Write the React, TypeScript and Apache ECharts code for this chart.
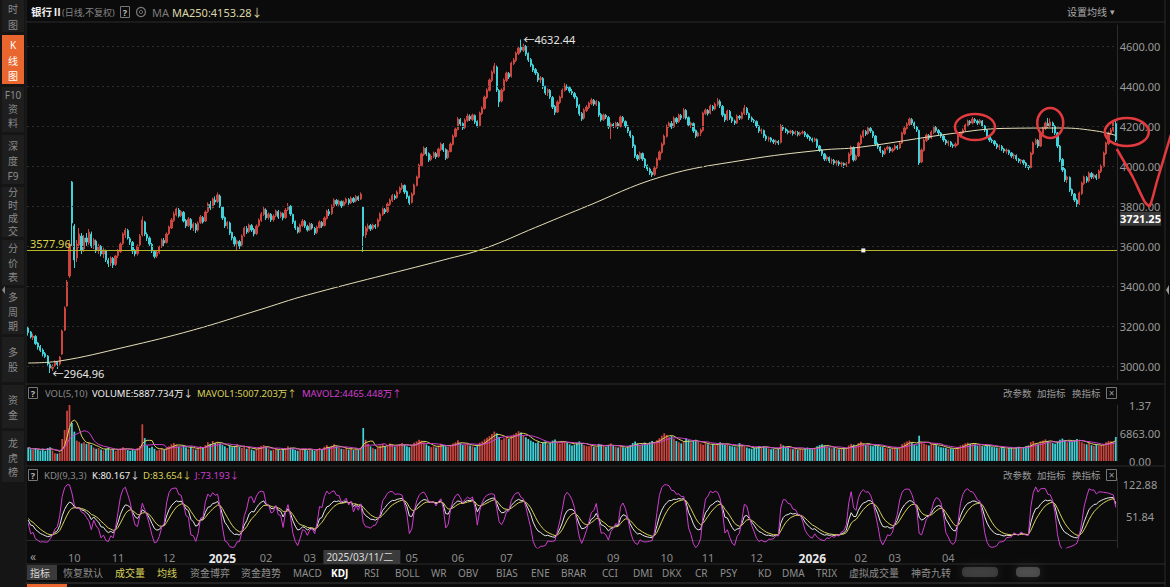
import { useEffect, useRef } from "react";
import * as echarts from "echarts";

// Daily candles of 银行Ⅱ: [open, close, low, high]
const candles: number[][] = [
  [3190,3168,3152,3198],[3170,3145,3138,3175],[3142,3150,3130,3162],[3148,3112,3105,3155],[3115,3095,3082,3120],
  [3098,3078,3070,3105],[3080,3060,3048,3088],[3062,3048,3040,3070],[3050,3010,3002,3055],[3008,2990,2964.96,3015],
  [2988,3000,2975,3008],[3002,3020,2995,3028],[3018,3008,2985,3025],[3010,3045,3002,3050],[3060,3175,3055,3182],
  [3180,3290,3175,3298],[3300,3420,3295,3430],[3450,3610,3440,3625],[3920,3715,3600,3925],[3700,3530,3490,3710],
  [3540,3610,3520,3630],[3605,3660,3590,3690],[3650,3580,3560,3665],[3585,3640,3570,3655],[3640,3620,3600,3665],
  [3615,3670,3605,3685],[3660,3600,3590,3672],[3605,3630,3585,3640],[3625,3575,3565,3632],[3580,3600,3560,3612],
  [3598,3560,3548,3605],[3560,3580,3540,3592],[3575,3530,3520,3582],[3528,3512,3495,3540],[3515,3540,3500,3548],
  [3538,3505,3490,3545],[3508,3550,3500,3556],[3552,3575,3540,3585],[3572,3610,3565,3618],[3612,3660,3605,3668],
  [3655,3680,3640,3690],[3678,3640,3632,3686],[3636,3620,3605,3645],[3618,3575,3560,3625],[3578,3560,3548,3585],
  [3562,3600,3552,3608],[3605,3650,3598,3660],[3655,3730,3648,3748],[3720,3660,3650,3726],[3658,3640,3625,3668],
  [3640,3610,3600,3648],[3608,3575,3565,3615],[3572,3548,3538,3580],[3550,3570,3540,3578],[3568,3595,3560,3602],
  [3598,3630,3590,3638],[3628,3615,3600,3640],[3618,3660,3612,3668],[3662,3695,3655,3702],[3690,3730,3685,3740],
  [3728,3760,3720,3772],[3755,3785,3748,3792],[3780,3750,3742,3790],[3752,3772,3745,3780],[3768,3725,3718,3775],
  [3728,3700,3690,3735],[3702,3735,3695,3745],[3732,3690,3680,3740],[3692,3710,3675,3718],[3708,3680,3665,3715],
  [3680,3715,3672,3722],[3718,3745,3710,3755],[3742,3720,3712,3750],[3725,3770,3720,3778],[3772,3810,3765,3818],
  [3808,3790,3780,3825],[3792,3835,3788,3842],[3830,3820,3805,3848],[3822,3855,3815,3868],[3850,3800,3790,3858],
  [3795,3740,3730,3800],[3742,3700,3690,3748],[3702,3718,3685,3725],[3715,3665,3655,3722],[3668,3640,3628,3672],
  [3642,3610,3598,3650],[3612,3625,3580,3632],[3622,3600,3585,3630],[3605,3650,3598,3658],[3652,3690,3645,3698],
  [3688,3670,3660,3700],[3672,3705,3665,3712],[3702,3680,3670,3710],[3682,3660,3648,3690],[3662,3700,3655,3708],
  [3702,3730,3695,3738],[3728,3760,3720,3770],[3758,3785,3750,3795],[3780,3740,3730,3788],[3742,3760,3732,3768],
  [3758,3730,3720,3765],[3732,3750,3722,3758],[3752,3775,3745,3782],[3772,3745,3735,3780],[3748,3765,3740,3772],
  [3762,3740,3728,3768],[3742,3780,3735,3790],[3782,3800,3775,3815],[3798,3760,3750,3805],[3758,3720,3710,3762],
  [3722,3690,3680,3728],[3692,3670,3662,3698],[3672,3705,3665,3712],[3702,3725,3695,3735],[3722,3700,3690,3730],
  [3698,3680,3672,3706],[3682,3710,3675,3718],[3708,3690,3682,3715],[3688,3665,3655,3695],[3668,3695,3660,3702],
  [3692,3720,3688,3728],[3718,3700,3690,3725],[3702,3740,3698,3748],[3738,3775,3732,3782],[3772,3760,3750,3785],
  [3762,3800,3755,3808],[3798,3830,3790,3838],[3828,3810,3800,3835],[3808,3825,3800,3832],[3822,3800,3790,3828],
  [3802,3820,3795,3828],[3818,3835,3810,3842],[3832,3815,3805,3840],[3815,3840,3810,3848],[3838,3822,3815,3845],
  [3825,3848,3818,3855],[3846,3832,3825,3852],[3835,3860,3830,3868],[3795,3650,3570,3800],[3655,3690,3640,3700],
  [3688,3700,3672,3712],[3702,3685,3675,3710],[3688,3705,3680,3712],[3702,3695,3685,3710],[3698,3730,3692,3738],
  [3728,3760,3722,3768],[3758,3785,3750,3792],[3782,3770,3760,3790],[3772,3810,3765,3818],[3808,3830,3800,3838],
  [3828,3852,3820,3860],[3850,3840,3830,3858],[3842,3870,3835,3878],[3868,3890,3860,3898],[3888,3905,3880,3915],
  [3902,3870,3860,3908],[3872,3845,3835,3878],[3848,3815,3805,3852],[3818,3860,3812,3868],[3858,3905,3852,3912],
  [3902,3945,3898,3952],[3942,4005,3938,4012],[4002,4060,3998,4068],[4058,4090,4050,4098],[4088,4060,4050,4095],
  [4062,4030,4020,4068],[4032,4050,4025,4058],[4048,4065,4040,4072],[4062,4045,4035,4070],[4048,4085,4042,4092],
  [4082,4110,4075,4118],[4108,4080,4070,4115],[4082,4040,4030,4088],[4042,4075,4035,4082],[4072,4110,4068,4118],
  [4108,4150,4102,4158],[4148,4185,4142,4192],[4182,4235,4178,4245],[4232,4210,4200,4240],[4212,4190,4180,4218],
  [4192,4230,4185,4238],[4228,4250,4220,4262],[4248,4235,4225,4258],[4232,4255,4225,4262],[4252,4220,4210,4258],
  [4222,4200,4192,4228],[4202,4265,4198,4272],[4262,4290,4255,4298],[4288,4345,4282,4352],[4342,4380,4335,4388],
  [4378,4430,4372,4438],[4428,4470,4420,4478],[4468,4500,4460,4515],[4495,4380,4370,4502],[4378,4320,4295,4385],
  [4325,4380,4318,4388],[4378,4430,4372,4438],[4428,4465,4420,4472],[4462,4445,4435,4470],[4448,4515,4442,4522],
  [4512,4530,4505,4540],[4528,4565,4520,4572],[4562,4590,4555,4600],[4595,4580,4568,4632.44],[4578,4600,4570,4612],
  [4598,4560,4550,4605],[4562,4530,4520,4568],[4532,4505,4495,4540],[4505,4480,4470,4512],[4482,4465,4455,4490],
  [4462,4430,4420,4470],[4432,4440,4415,4450],[4438,4395,4385,4445],[4398,4365,4355,4402],[4368,4380,4350,4388],
  [4378,4345,4335,4385],[4342,4295,4285,4350],[4298,4268,4255,4305],[4270,4320,4265,4328],[4318,4345,4310,4352],
  [4342,4380,4338,4388],[4378,4400,4372,4415],[4398,4390,4380,4408],[4392,4375,4365,4398],[4372,4365,4355,4385],
  [4362,4345,4335,4370],[4342,4300,4290,4350],[4302,4260,4250,4310],[4262,4235,4225,4270],[4240,4280,4232,4288],
  [4278,4295,4270,4305],[4292,4315,4285,4322],[4312,4330,4305,4340],[4328,4310,4300,4335],[4308,4322,4300,4330],
  [4318,4255,4245,4325],[4258,4230,4222,4265],[4232,4255,4225,4262],[4252,4245,4235,4260],[4242,4195,4185,4250],
  [4198,4210,4135,4218],[4208,4200,4190,4215],[4198,4215,4192,4222],[4212,4195,4185,4220],[4198,4245,4192,4252],
  [4242,4225,4215,4250],[4222,4200,4190,4228],[4200,4175,4165,4205],[4172,4150,4140,4178],[4148,4100,4090,4155],
  [4102,4050,4040,4108],[4052,4035,4025,4060],[4038,4065,4030,4072],[4062,4035,4025,4068],[4035,4000,3990,4040],
  [4002,3985,3975,4008],[3985,3965,3955,3992],[3968,3955,3945,3975],[3958,3990,3950,3998],[3992,4035,3985,4042],
  [4032,4070,4028,4078],[4068,4110,4062,4118],[4108,4150,4102,4158],[4148,4200,4142,4208],[4198,4215,4190,4222],
  [4212,4195,4185,4225],[4195,4240,4190,4248],[4238,4220,4210,4245],[4222,4255,4215,4262],[4252,4240,4230,4260],
  [4242,4280,4235,4290],[4278,4240,4232,4285],[4242,4205,4195,4248],[4205,4215,4190,4222],[4212,4175,4165,4218],
  [4178,4150,4140,4182],[4150,4165,4145,4172],[4165,4180,4150,4188],[4178,4265,4172,4272],[4262,4280,4255,4288],
  [4278,4262,4252,4285],[4265,4300,4258,4308],[4298,4285,4275,4305],[4285,4310,4278,4318],[4308,4325,4298,4340],
  [4322,4300,4290,4332],[4298,4255,4245,4305],[4258,4230,4220,4262],[4232,4275,4225,4282],[4272,4240,4230,4280],
  [4242,4225,4215,4248],[4225,4215,4205,4232],[4215,4250,4210,4258],[4248,4240,4230,4255],[4238,4265,4232,4272],
  [4262,4290,4255,4305],[4288,4265,4255,4295],[4262,4240,4230,4268],[4240,4230,4220,4248],[4228,4225,4215,4235],
  [4222,4200,4190,4228],[4200,4175,4165,4205],[4175,4180,4160,4188],[4178,4150,4140,4182],[4150,4135,4125,4158],
  [4135,4140,4122,4148],[4140,4128,4118,4145],[4128,4120,4110,4135],[4118,4125,4105,4132],[4122,4115,4105,4130],
  [4118,4200,4112,4210],[4198,4185,4175,4205],[4185,4175,4165,4192],[4175,4168,4158,4182],[4168,4175,4160,4182],
  [4172,4162,4152,4180],[4162,4170,4155,4178],[4168,4158,4148,4175],[4158,4165,4150,4172],[4165,4170,4158,4178],
  [4168,4155,4145,4175],[4155,4145,4135,4162],[4145,4135,4125,4150],[4135,4128,4118,4142],[4128,4135,4120,4142],
  [4132,4100,4090,4138],[4100,4080,4070,4105],[4080,4060,4050,4085],[4060,4035,4025,4065],[4035,4045,4025,4052],
  [4042,4025,4015,4048],[4025,4030,4010,4038],[4028,4015,4005,4035],[4015,4022,4002,4030],[4020,4010,4000,4028],
  [4010,4015,3995,4022],[4012,4005,3990,4018],[4005,4012,3995,4020],[4015,4060,4010,4068],[4058,4095,4050,4102],
  [4092,4030,4022,4098],[4032,4050,4025,4058],[4050,4115,4045,4122],[4112,4150,4105,4158],[4148,4175,4140,4182],
  [4172,4160,4150,4180],[4162,4190,4155,4198],[4188,4175,4165,4195],[4172,4150,4140,4178],[4150,4110,4100,4155],
  [4110,4095,4085,4118],[4095,4075,4065,4100],[4075,4060,4045,4080],[4062,4085,4055,4092],[4085,4095,4078,4102],
  [4092,4075,4065,4098],[4075,4085,4068,4092],[4085,4100,4078,4108],[4098,4090,4080,4105],[4090,4115,4085,4122],
  [4115,4165,4110,4172],[4162,4190,4155,4198],[4188,4210,4182,4218],[4208,4235,4200,4242],[4232,4215,4205,4240],
  [4215,4195,4185,4222],[4195,4180,4170,4200],[4178,4015,4005,4182],[4020,4080,4015,4088],[4078,4130,4072,4138],
  [4128,4155,4120,4162],[4152,4140,4130,4160],[4140,4170,4135,4178],[4168,4195,4160,4202],[4192,4178,4168,4200],
  [4178,4165,4155,4185],[4165,4150,4140,4170],[4150,4130,4120,4155],[4130,4115,4105,4135],[4115,4122,4100,4128],
  [4120,4105,4095,4125],[4105,4100,4090,4112],[4100,4110,4092,4118],[4108,4150,4102,4158],[4150,4165,4142,4172],
  [4165,4180,4158,4188],[4180,4205,4172,4212],[4202,4225,4195,4232],[4222,4215,4205,4230],[4215,4235,4208,4245],
  [4232,4225,4215,4240],[4225,4215,4205,4232],[4215,4228,4208,4235],[4225,4200,4192,4230],[4200,4180,4170,4205],
  [4180,4150,4140,4185],[4150,4130,4120,4155],[4130,4125,4115,4138],[4125,4110,4100,4130],[4110,4095,4085,4115],
  [4095,4100,4080,4108],[4098,4085,4075,4105],[4085,4075,4065,4090],[4075,4080,4062,4088],[4078,4065,4055,4082],
  [4065,4050,4040,4070],[4050,4055,4035,4062],[4052,4035,4025,4058],[4035,4025,4015,4040],[4025,4030,4010,4035],
  [4028,4015,4005,4032],[4015,4000,3990,4020],[4000,3992,3980,4005],[3992,4065,3988,4072],[4062,4115,4055,4122],
  [4112,4130,4105,4138],[4128,4100,4090,4135],[4100,4165,4095,4172],[4162,4190,4155,4198],[4188,4215,4180,4222],
  [4212,4200,4190,4240],[4200,4220,4195,4238],[4215,4200,4165,4222],[4198,4165,4155,4205],[4165,4100,4090,4170],
  [4100,4030,4020,4105],[4032,3980,3970,4040],[3982,3930,3920,3990],[3932,3945,3915,3952],[3942,3880,3870,3948],
  [3882,3860,3850,3888],[3860,3830,3820,3865],[3830,3810,3795,3838],[3812,3865,3805,3872],[3862,3915,3855,3922],
  [3912,3945,3905,3952],[3942,3925,3915,3950],[3925,3965,3918,3972],[3962,3945,3935,3970],[3945,3955,3935,3962],
  [3952,3940,3930,3960],[3940,3975,3935,3982],[3972,4000,3965,4008],[3998,4065,3992,4072],[4062,4115,4055,4122],
  [4112,4165,4105,4172],[4162,4180,4155,4190],[4178,4215,4170,4228],[4212,4130,4120,4225],
];

// Daily volume, 万股
const volumes: number[] = [
  3300,2900,2700,3100,2800,2600,3000,2500,3200,3400,
  2600,1900,1800,2000,5400,7600,12300,13726,9300,7200,
  5000,4700,4300,4600,4200,4500,3900,3300,3000,3200,
  2800,2600,3000,3300,2700,2900,2500,2800,3100,3400,
  3000,2700,2500,2900,2600,3200,3700,9000,5600,3800,
  3200,3500,3000,2600,2800,3100,2700,3300,3600,4100,
  4400,4000,3600,3300,3800,3400,3000,3500,3100,2800,
  3200,3600,3300,3900,4600,4200,4900,4400,4700,4300,
  3900,3600,3200,3800,3400,3700,4100,3500,3200,3600,
  3000,3300,2800,2600,3000,3400,3700,3900,3500,2900,
  2600,2800,3100,2700,2500,2900,3200,3600,3300,3000,
  2700,2500,2800,3100,2900,2600,3000,2700,2500,2900,
  3200,2800,3500,3900,3400,3700,4100,3600,3300,3000,
  2900,3200,2800,3100,2700,3000,2800,3300,8100,5200,
  4200,3600,3100,2900,3400,3800,4200,3600,3900,4300,
  4000,3500,3800,4100,4400,4000,3600,3400,3900,4500,
  4800,5200,5000,4600,4100,3700,3400,3600,3300,3800,
  4200,3900,3600,3500,3900,4300,4600,5100,4400,3900,
  4000,4300,3800,3600,3400,3900,4500,4800,5300,5700,
  6100,6600,7200,6800,5900,5200,5600,6000,5400,6200,
  6500,6900,7300,7000,6200,5800,5400,5000,4700,4400,
  4600,4200,4500,4800,4100,4400,5000,5300,4600,4300,
  4700,4900,4400,4100,3800,4000,4500,4800,4300,3900,
  3700,3600,3900,3500,3400,4200,4000,3700,3500,3900,
  4300,3800,3500,3300,3700,3400,3200,3600,3900,4400,
  4800,4300,3900,4100,4500,4200,4600,4900,4500,5100,
  5600,6200,6800,6400,5800,6100,5400,4900,4600,4300,
  4700,5500,5100,4600,4900,5200,4700,4300,4000,4400,
  4100,3800,4200,3900,4300,4600,4200,3900,4100,3800,
  3600,3500,3400,4400,3900,3600,3300,3100,3000,3200,
  3400,3700,3300,3600,3400,3100,2900,3000,2800,3100,
  4200,3800,3400,3200,3000,2900,3100,2800,3000,2900,
  3100,3300,3000,2900,3200,3600,3900,4100,3800,3500,
  3300,3100,3200,3000,2900,3100,3000,3200,3800,4200,
  4000,3600,4400,4700,4300,3900,4100,3800,3600,3900,
  3700,3500,3400,3200,3100,3000,3200,3300,3100,3500,
  4100,4500,4800,5000,4400,4000,3800,6200,4700,4300,
  4000,3800,4100,4300,3900,3600,3400,3300,3200,3000,
  3100,2900,3000,3500,3800,4000,4300,4500,4200,4400,
  4100,3800,3900,3700,3600,3800,3900,3500,3400,3300,
  3200,3400,3100,3000,3200,3300,3100,3400,3500,3200,
  3300,3600,3800,4600,4900,4400,4100,4800,5000,5300,
  4900,4600,4400,4200,4800,5200,5500,5100,4600,5000,
  4800,5100,5400,5000,4600,4300,4100,4400,3900,
  3700,4100,3800,3918,4100.47,4600,4900,4848,4800.28,5887.734,
];

// 250-day moving average read at sparse days: [dayIndex, value]
const ma250Knots: number[][] = [
  [0,3015],[13,3025],[40,3095],[68,3180],[95,3280],[115,3355],[171,3530],[188,3588],
  [209,3693],[228,3788],[261,3947],[295,4030],[327,4080],[342,4093],
  [381,4163],[402,4188],[426,4190],[440,4175],[448,4153.28],
];

const priceTicks = [3000, 3200, 3400, 3600, 3800, 4000, 4200, 4400, 4600];
const volTicks = [0, 6863, 13726];
const kdjTicks = [51.84, 122.88];
const drawnLevel = 3577.96;
const crossPrice = 3721.25;
const crossDay = 122;
const peakDay = 203;
const troughDay = 9;
const lastK = 80.167;
const lastD = 83.654;
const lastJ = 73.193;

const firstDay = "2024-09-02";
const closedDays = [
  "2024-09-16","2024-09-17","2024-10-01","2024-10-02","2024-10-03","2024-10-04","2024-10-07",
  "2025-01-01","2025-01-28","2025-01-29","2025-01-30","2025-01-31","2025-02-03","2025-02-04",
  "2025-04-04","2025-05-01","2025-05-02","2025-05-05","2025-06-02",
  "2025-10-01","2025-10-02","2025-10-03","2025-10-06","2025-10-07","2025-10-08",
  "2026-01-01","2026-01-02","2026-02-16","2026-02-17","2026-02-18","2026-02-19","2026-02-20","2026-02-23",
  "2026-04-06","2026-05-01","2026-05-04","2026-05-05","2026-06-19",
];
const lastLabelledDay = 390;

const UP = "#cc453f";
const DOWN = "#40d2d8";
const YELLOW = "#d9d25c";
const MAGENTA = "#cf3fcf";
const FONT = '"Noto Sans", "Noto Sans CJK SC", sans-serif';

function tradingDays(start: string, count: number, closed: Set<string>) {
  const out: string[] = [];
  const d = new Date(start + "T00:00:00Z");
  while (out.length < count) {
    const wd = d.getUTCDay();
    const s = d.toISOString().slice(0, 10);
    if (wd !== 0 && wd !== 6 && !closed.has(s)) out.push(s);
    d.setUTCDate(d.getUTCDate() + 1);
  }
  return out;
}

function movingAverage(values: number[], n: number) {
  return values.map((_, i) => {
    const s = Math.max(0, i - n + 1);
    let sum = 0;
    for (let j = s; j <= i; j++) sum += values[j];
    return sum / (i - s + 1);
  });
}

// KDJ(9,3,3) from the candles
function kdj(rows: number[][], n: number) {
  let k = 50, d = 50;
  const K: number[] = [], D: number[] = [], J: number[] = [];
  rows.forEach((r, i) => {
    let lo = Infinity, hi = -Infinity;
    for (let j = Math.max(0, i - n + 1); j <= i; j++) {
      lo = Math.min(lo, rows[j][2]);
      hi = Math.max(hi, rows[j][3]);
    }
    const rsv = hi === lo ? 50 : ((r[1] - lo) / (hi - lo)) * 100;
    k = (2 * k + rsv) / 3;
    d = (2 * d + k) / 3;
    K.push(k); D.push(d); J.push(3 * k - 2 * d);
  });
  return { K, D, J };
}

const txt = (x: number, y: number, text: string, fill: string, size = 10, weight = "normal", align = "left") => ({
  type: "text", x, y, silent: true, z: 20,
  style: { text, fill, font: `${weight} ${size}px ${FONT}`, textAlign: align, textVerticalAlign: "middle" },
});
const rect = (x: number, y: number, w: number, h: number, fill: string, stroke?: string) => ({
  type: "rect", silent: true, z: 10,
  shape: { x, y, width: w, height: h },
  style: { fill, stroke: stroke || null, lineWidth: 1 },
});
const hline = (x1: number, x2: number, y: number, stroke = "#2c2c2c") => ({
  type: "line", silent: true, z: 5, shape: { x1, y1: y, x2, y2: y }, style: { stroke, lineWidth: 1 },
});
const vline = (x: number, y1: number, y2: number, stroke = "#2c2c2c") => ({
  type: "line", silent: true, z: 5, shape: { x1: x, y1, x2: x, y2 }, style: { stroke, lineWidth: 1 },
});

const sideButtons = [
  { top: -4, bottom: 32, labels: ["时", "图"], ys: [9, 25] },
  { top: 35, bottom: 84, labels: ["K", "线", "图"], ys: [45, 61, 76], active: true },
  { top: 87, bottom: 132, labels: ["F10", "资", "料"], ys: [95, 109, 123] },
  { top: 135, bottom: 184, labels: ["深", "度", "F9"], ys: [146, 161, 176] },
  { top: 187, bottom: 237, labels: ["分", "时", "成", "交"], ys: [192, 205, 218, 231] },
  { top: 240, bottom: 285, labels: ["分", "价", "表"], ys: [248, 263, 277] },
  { top: 288, bottom: 334, labels: ["多", "周", "期"], ys: [297, 312, 326] },
  { top: 337, bottom: 382, labels: ["多", "股"], ys: [352, 367] },
  { top: 385, bottom: 428, labels: ["资", "金"], ys: [400, 415] },
  { top: 431, bottom: 482, labels: ["龙", "虎", "榜"], ys: [443, 458, 472] },
];

const toolbar: [string, number, string?][] = [
  ["恢复默认", 63], ["成交量", 115, YELLOW], ["均线", 157, YELLOW], ["资金博弈", 190], ["资金趋势", 241],
  ["MACD", 293], ["KDJ", 331, "#ffffff"], ["RSI", 364], ["BOLL", 395], ["WR", 431], ["OBV", 458],
  ["BIAS", 496], ["ENE", 531], ["BRAR", 561], ["CCI", 602], ["DMI", 633], ["DKX", 662], ["CR", 695],
  ["PSY", 720], ["KD", 758], ["DMA", 782], ["TRIX", 816], ["虚拟成交量", 849], ["神奇九转", 911],
];

function panelButtons(y: number) {
  return [
    txt(1003, y, "改参数", "#9a9a9a", 9.5),
    txt(1037, y, "加指标", "#9a9a9a", 9.5),
    txt(1072, y, "换指标", "#9a9a9a", 9.5),
    rect(1106.5, y - 5.5, 10, 11, "transparent", "#777"),
    txt(1111.5, y, "×", "#9a9a9a", 10, "normal", "center"),
  ];
}

function helpBox(x: number, y: number) {
  return [rect(x + 0.5, y - 5.5, 9, 11, "transparent", "#777"), txt(x + 5, y, "?", "#bbb", 9, "bold", "center")];
}

export default function App() {
  const ref = useRef<HTMLDivElement>(null);

  useEffect(() => {
    document.body.style.margin = "0";
    document.body.style.background = "#0b0b0b";
    const chart = echarts.init(ref.current!, undefined, { renderer: "svg" });
    const N = candles.length;
    const dates = tradingDays(firstDay, N, new Set(closedDays));
    const ma250: (number | null)[] = new Array(N).fill(null);
    ma250Knots.forEach(([i, v]) => { ma250[i] = v; });
    const mavol1 = movingAverage(volumes, 5);
    const mavol2 = movingAverage(volumes, 10);
    const { K, D, J } = kdj(candles, 9);
    K[N - 1] = lastK; D[N - 1] = lastD; J[N - 1] = lastJ;

    // month labels; the crosshair date box covers the ones just after it
    const isMonthStart = dates.map((d, i) => i > 0 && d.slice(0, 7) !== dates[i - 1].slice(0, 7));
    const labelDay = (i: number) =>
      isMonthStart[i] && i <= lastLabelledDay && !(i >= crossDay && i <= crossDay + 30);
    const gridBase = { left: 27, right: 53 };
    const hiddenX = (gridIndex: number) => ({
      type: "category", gridIndex, data: dates, boundaryGap: true,
      axisLine: { show: false }, axisTick: { show: false }, axisLabel: { show: false }, splitLine: { show: false },
    });
    const yBase = {
      type: "value", position: "right", scale: false,
      axisLine: { show: true, lineStyle: { color: "#2c2c2c" } },
      axisTick: { show: false }, splitLine: { show: false },
    };
    const axisText = { color: "#9a9a9a", fontSize: 11, align: "center", margin: 23, fontFamily: FONT };
    const lineSeries = (name: string, data: any[], color: string, xi: number, extra: any = {}) => ({
      name, type: "line", data, xAxisIndex: xi, yAxisIndex: xi, showSymbol: false, silent: true,
      lineStyle: { color, width: 1 }, ...extra,
    });

    chart.setOption({
      animation: false,
      backgroundColor: "#0b0b0b",
      textStyle: { fontFamily: FONT },
      grid: [
        { ...gridBase, top: 25, height: 355 },
        { ...gridBase, top: 405, height: 56 },
        { ...gridBase, top: 478, height: 70 },
      ],
      xAxis: [
        hiddenX(0),
        hiddenX(1),
        {
          ...hiddenX(2),
          axisLine: { show: true, lineStyle: { color: "#2c2c2c" } },
          axisLabel: {
            show: true, margin: 4,
            interval: (i: number) => labelDay(i),
            formatter: (v: string) => (v.slice(5, 7) === "01" ? `{y|${v.slice(0, 4)}}` : `{m|${v.slice(5, 7)}}`),
            rich: {
              y: { color: "#e8e8e8", fontSize: 12, fontWeight: "bold", fontFamily: FONT },
              m: { color: "#8a8a8a", fontSize: 11, fontFamily: FONT },
            },
          },
        },
      ],
      yAxis: [
        {
          ...yBase, gridIndex: 0, min: 2930, max: 4705,
          axisLabel: { ...axisText, customValues: priceTicks, formatter: (v: number) => v.toFixed(2) },
        },
        {
          ...yBase, gridIndex: 1, min: 0, max: volTicks[2],
          axisLabel: {
            ...axisText, customValues: volTicks,
            formatter: (v: number) => (v >= 10000 ? (v / 10000).toFixed(2) : v.toFixed(2)),
          },
        },
        {
          ...yBase, gridIndex: 2, min: -17, max: 138.4,
          axisLabel: { ...axisText, customValues: kdjTicks, formatter: (v: number) => v.toFixed(2) },
        },
      ],
      series: [
        {
          name: "K", type: "candlestick", data: candles, xAxisIndex: 0, yAxisIndex: 0, barWidth: "72%",
          itemStyle: { color: UP, color0: DOWN, borderColor: UP, borderColor0: DOWN, borderWidth: 1 },
          markLine: {
            silent: true, symbol: ["none", "none"], animation: false,
            data: [
              ...priceTicks.map((v) => ({ yAxis: v, lineStyle: { color: "#2e2e2e", type: [2, 3], width: 1 }, label: { show: false } })),
              {
                yAxis: drawnLevel, lineStyle: { color: "#b8b52c", type: "solid", width: 1.2 },
                label: { show: true, position: "insideStartTop", formatter: drawnLevel.toFixed(2), color: "#d8d24a", fontSize: 11, distance: [3, 1] },
              },
            ],
          },
          markPoint: {
            silent: true, animation: false,
            data: [
              {
                coord: [peakDay, candles[peakDay][3]], symbol: "circle", symbolSize: 1, itemStyle: { color: "rgba(0,0,0,0)" },
                label: { show: true, position: "right", distance: 2, formatter: "←" + candles[peakDay][3].toFixed(2), color: "#e6e6e6", fontSize: 11 },
              },
              {
                coord: [troughDay, candles[troughDay][2]], symbol: "circle", symbolSize: 1, itemStyle: { color: "rgba(0,0,0,0)" },
                label: { show: true, position: "right", distance: 2, formatter: "←" + candles[troughDay][2].toFixed(2), color: "#e6e6e6", fontSize: 11 },
              },
              { coord: [344, drawnLevel], symbol: "rect", symbolSize: [4, 4], itemStyle: { color: "#f0f0f0" }, label: { show: false } },
            ],
          },
        },
        lineSeries("MA250", ma250, "#e6dfb8", 0, { connectNulls: true, smooth: 0.4 }),
        {
          name: "VOL", type: "bar", data: volumes, xAxisIndex: 1, yAxisIndex: 1, barWidth: "72%", silent: true,
          itemStyle: { color: (p: any) => (candles[p.dataIndex][1] >= candles[p.dataIndex][0] ? UP : DOWN) },
        },
        lineSeries("MAVOL1", mavol1, YELLOW, 1),
        lineSeries("MAVOL2", mavol2, MAGENTA, 1),
        lineSeries("K", K, "#e8e8e8", 2),
        lineSeries("D", D, YELLOW, 2),
        lineSeries("J", J, MAGENTA, 2),
      ],
    });

    const [cx, cy] = chart.convertToPixel({ gridIndex: 0 }, [crossDay, crossPrice]) as number[];
    const c1 = chart.convertToPixel({ gridIndex: 0 }, [390, 4195]) as number[];
    const c2 = chart.convertToPixel({ gridIndex: 0 }, [421, 4215]) as number[];
    const c3base = chart.convertToPixel({ gridIndex: 0 }, [N - 1, 4170]) as number[];
    const c3 = [c3base[0] + 11, c3base[1]];
    const red = "#e23a3f";
    const d = new Date(dates[crossDay] + "T00:00:00Z");
    const week = "日一二三四五六"[d.getUTCDay()];
    const crossLabel = dates[crossDay].replace(/-/g, "/") + "/" + week;

    const graphics: any[] = [
      // sidebar
      rect(0, 0, 25, 587, "#151515"),
      ...sideButtons.flatMap((b) => [
        rect(2, b.top, 22, b.bottom - b.top, b.active ? "#e9672e" : "#1e1e1e"),
        ...b.labels.map((l, i) => txt(13, b.ys[i], l, b.active ? "#ffffff" : "#8a8a8a", 10, "normal", "center")),
      ]),
      { type: "polygon", silent: true, z: 20, shape: { points: [[5, 286], [2, 290], [5, 294]] }, style: { fill: "#888" } },
      vline(26, 0, 587, "#262626"),
      vline(1165, 0, 587, "#2a2a2a"),
      { type: "polygon", silent: true, z: 20, shape: { points: [[1169, 285], [1166, 290], [1169, 295]] }, style: { fill: "#999" } },
      // separators
      hline(26, 1165, 22),
      hline(26, 1165, 384),
      hline(26, 1165, 466),
      hline(26, 1165, 564),
      // top header
      txt(31, 12, "银行Ⅱ", "#f0f0f0", 10.5, "bold"),
      txt(62, 12, "(日线,不复权)", "#858585", 9),
      ...helpBox(120, 12),
      { type: "circle", silent: true, z: 20, shape: { cx: 141, cy: 12, r: 4.5 }, style: { fill: "none", stroke: "#7a7a7a", lineWidth: 1.2 } },
      { type: "circle", silent: true, z: 20, shape: { cx: 141, cy: 12, r: 1.6 }, style: { fill: "none", stroke: "#7a7a7a", lineWidth: 1 } },
      txt(152, 12, "MA", "#7a7a7a", 11),
      txt(172, 12, "MA250:4153.28↓", "#dcd7a8", 11),
      txt(1067, 12, "设置均线", "#a8a8a8", 10),
      txt(1110, 11, "▾", "#a8a8a8", 9),
      // volume header
      ...helpBox(28, 393),
      txt(45, 393, "VOL(5,10)", "#8a8a8a", 9.5),
      txt(92, 393, "VOLUME:5887.734万↓", "#eeeeee", 9.5),
      txt(197, 393, "MAVOL1:5007.203万↑", YELLOW, 9.5),
      txt(302, 393, "MAVOL2:4465.448万↑", MAGENTA, 9.5),
      ...panelButtons(393),
      // KDJ header
      ...helpBox(28, 475),
      txt(44, 475, "KDJ(9,3,3)", "#8a8a8a", 9.5),
      txt(92, 475, "K:80.167↓", "#eeeeee", 9.5),
      txt(143, 475, "D:83.654↓", YELLOW, 9.5),
      txt(195, 475, "J:73.193↓", MAGENTA, 9.5),
      ...panelButtons(475),
      // time axis scroll button
      txt(30, 556, "«", "#9a9a9a", 12),
      // crosshair readouts
      rect(cx - 1, 550, 77, 14, "#3b3b3b"),
      txt(cx + 2, 557, crossLabel, "#dddddd", 10),
      rect(1120, cy - 10, 41, 14, "#3a3a3a"),
      txt(1140.5, cy - 3, crossPrice.toFixed(2), "#ffffff", 11, "bold", "center"),
      // bottom toolbar
      rect(27, 565, 30, 15, "#3a3a3a"),
      txt(30, 572.5, "指标", "#d8d8d8", 10),
      ...toolbar.map(([t, x, c]) => txt(x, 572.5, t, c || "#8e8e8e", 10, t === "KDJ" ? "bold" : "normal")),
      { type: "rect", silent: true, z: 10, shape: { x: 962, y: 567, width: 36, height: 10, r: 4 }, style: { fill: "rgba(170,170,170,0.25)", shadowBlur: 10, shadowColor: "rgba(190,190,190,0.5)" } },
      { type: "rect", silent: true, z: 10, shape: { x: 1016, y: 567, width: 24, height: 10, r: 4 }, style: { fill: "rgba(190,190,190,0.3)", shadowBlur: 10, shadowColor: "rgba(200,200,200,0.5)" } },
      hline(26, 1165, 583, "#3a3a3a"),
      rect(27, 584, 40, 3, "#e9672e"),
      // hand-drawn red marks
      { type: "ellipse", silent: true, z: 30, shape: { cx: c1[0], cy: c1[1], rx: 20, ry: 13 }, style: { fill: "none", stroke: red, lineWidth: 2.5 } },
      { type: "ellipse", silent: true, z: 30, shape: { cx: c2[0], cy: c2[1], rx: 13, ry: 15 }, style: { fill: "none", stroke: red, lineWidth: 2.5 } },
      { type: "ellipse", silent: true, z: 30, shape: { cx: c3[0], cy: c3[1], rx: 22, ry: 14 }, style: { fill: "none", stroke: red, lineWidth: 2.5 } },
      {
        type: "polyline", silent: true, z: 30,
        shape: { points: [[c3[0] - 10, c3[1] + 17], [c3[0] + 6, c3[1] + 45], [c3[0] + 18, c3[1] + 70], [c3[0] + 23, c3[1] + 74], [c3[0] + 30, c3[1] + 50], [c3[0] + 44, c3[1] + 3]], smooth: 0.2 },
        style: { fill: "none", stroke: red, lineWidth: 2.5 },
      },
    ];
    chart.setOption({ graphic: graphics });

    return () => chart.dispose();
  }, []);

  return <div ref={ref} style={{ position: "fixed", left: 0, top: 0, width: 1170, height: 587 }} />;
}
